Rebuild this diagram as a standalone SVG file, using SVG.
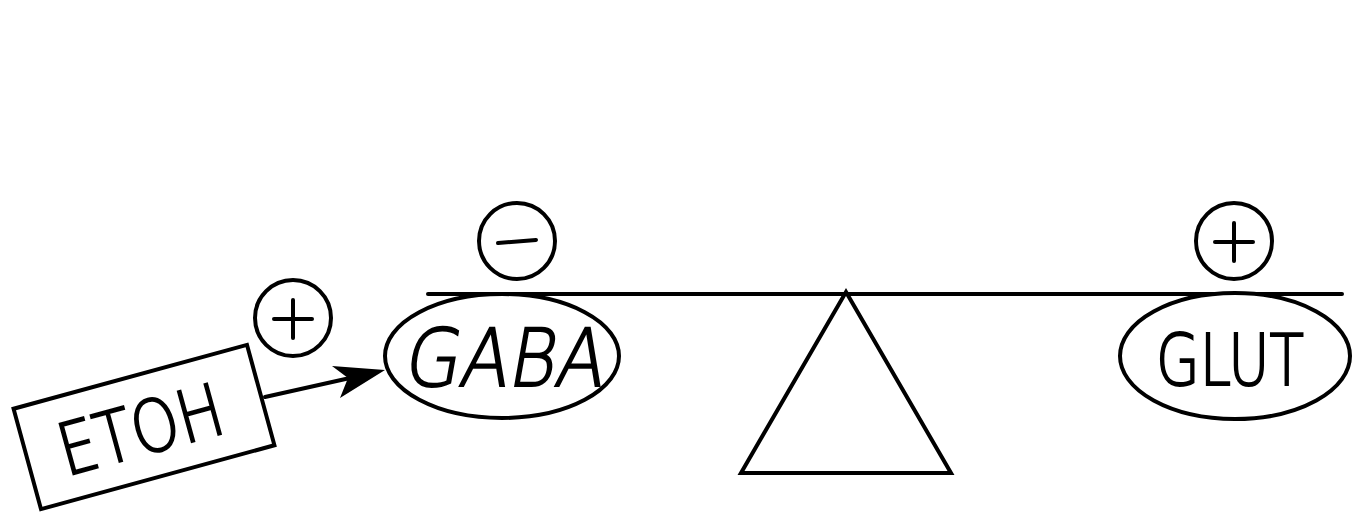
<svg xmlns="http://www.w3.org/2000/svg" width="1353" height="513" viewBox="0 0 1353 513">
<style>
.s{fill:none;stroke:#000;stroke-width:4;stroke-linecap:round}
.w{fill:#fff;stroke:#000;stroke-width:4}
.t{font-family:"DejaVu Sans","Liberation Sans",sans-serif;fill:#000;font-weight:200;stroke:#000;stroke-width:2}
</style>
<rect width="1353" height="513" fill="#fff"/>
<g id="fulcrum">
<polygon points="846,292 741,473 951,473" class="w"/>
</g>
<g id="beam">
<line x1="428" y1="294" x2="1342" y2="294" class="s" stroke-width="5"/>
</g>
<g id="gaba">
<ellipse cx="502" cy="356" rx="117" ry="62" class="w"/>
<g transform="translate(502,386) skewX(-10)">
<text x="0" y="0" class="t" font-size="80" text-anchor="middle" textLength="200" lengthAdjust="spacingAndGlyphs">GABA</text>
</g>
</g>
<g id="glut">
<ellipse cx="1235" cy="356" rx="115" ry="63" class="w"/>
<text x="1230" y="385" class="t" font-size="72" text-anchor="middle" textLength="148" lengthAdjust="spacingAndGlyphs">GLUT</text>
</g>
<g id="minus">
<circle cx="517" cy="241" r="38" class="w"/>
<line x1="498" y1="243" x2="536" y2="240" class="s"/>
</g>
<g id="plus-glut">
<circle cx="1234" cy="241" r="38" class="w"/>
<line x1="1215" y1="242" x2="1253" y2="242" class="s"/>
<line x1="1234" y1="223" x2="1234" y2="261" class="s"/>
</g>
<g id="plus-etoh">
<circle cx="293" cy="318" r="38" class="w"/>
<line x1="274" y1="319" x2="312" y2="319" class="s"/>
<line x1="293" y1="300" x2="293" y2="338" class="s"/>
</g>
<g id="etoh" transform="translate(144,427) rotate(-15.3)">
<rect x="-121" y="-52" width="242" height="104" class="w"/>
<text x="-4" y="27" class="t" font-size="72" text-anchor="middle" textLength="168" lengthAdjust="spacingAndGlyphs">ETOH</text>
</g>
<g id="connectors">
<line x1="265" y1="397" x2="350" y2="378" class="s"/>
<polygon points="385,370 332,366 348,378 340,398" fill="#000"/>
</g>
</svg>
